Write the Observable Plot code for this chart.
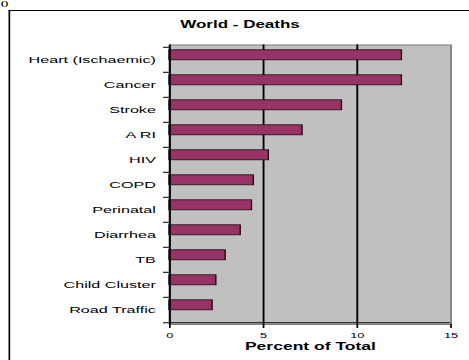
<!DOCTYPE html>
<html>
<head>
<meta charset="utf-8">
<script src="https://cdn.jsdelivr.net/npm/d3@7"></script>
<script src="https://cdn.jsdelivr.net/npm/@observablehq/plot@0.6"></script>
<style>
  html, body { margin: 0; padding: 0; background: #fff; overflow: hidden; }
  #page { position: relative; width: 469px; height: 360px; overflow: hidden; }
  /* the chart is laid out narrow and widened horizontally */
  #stage { position: absolute; left: 0; top: 0; width: 276px; height: 360px;
           transform-origin: 0 0; transform: scaleX(1.7); }
  #pageno { position: absolute; left: 0.5px; top: -1.5px; font: 9px/10px "Liberation Serif", "Times New Roman", serif; color: #000; }
  #box { position: absolute; left: 4.7px; top: 10px; width: 272px; height: 380px;
         border-left: 1.2px solid #000; border-top: 1px solid #000; box-sizing: border-box; }
  #title { position: absolute; left: 0; right: 0; top: 8px; text-align: center;
           font: bold 10px "Liberation Sans", Arial, sans-serif; color: #000; }
  #chart { position: absolute; left: 0; top: 0; }
</style>
</head>
<body>
<div id="page">
  <div id="stage">
    <div id="pageno">0</div>
    <div id="box"><div id="title"></div></div>
    <div id="chart"></div>
  </div>
</div>
<script>
// Causes of death, top to bottom, and their share of all deaths (%)
const causes = ["Heart (Ischaemic)", "Cancer", "Stroke", "A RI", "HIV", "COPD",
                "Perinatal", "Diarrhea", "TB", "Child Cluster", "Road Traffic"];
const percents = [12.4, 12.4, 9.2, 7.1, 5.3, 4.5, 4.4, 3.8, 3.0, 2.5, 2.3];
const xTicks = [0, 5, 10, 15];
const gridValues = [5, 10];
const chartTitle = "World - Deaths";
const xTitle = "Percent of Total";

const data = causes.map((cause, i) => ({cause, percent: percents[i]}));

const W = 276, H = 360;
const mTop = 44.5, mBottom = 36, mLeft = 99.4, mRight = 11.2;
const band = (H - mTop - mBottom) / causes.length;

document.getElementById("title").textContent = chartTitle;

const chart = Plot.plot({
  width: W,
  height: H,
  marginTop: mTop,
  marginBottom: mBottom,
  marginLeft: mLeft,
  marginRight: mRight,
  style: {fontFamily: "'Liberation Sans', Arial, sans-serif", fontSize: "9.5px", color: "#000", background: "transparent", overflow: "visible"},
  x: {domain: [0, 15], label: null},
  y: {type: "band", domain: causes, padding: 0, label: null},
  marks: [
    Plot.frame({fill: "#c0c0c0", stroke: "#808080", strokeWidth: 1.1}),
    Plot.ruleX(gridValues, {stroke: "#000", strokeWidth: 1.1}),
    Plot.barX(data, {x: "percent", y: "cause", fill: "#993366", stroke: "#1a0a12",
                     strokeWidth: 0.8, insetTop: 2.8, insetBottom: 12.2}),
    Plot.ruleX([0], {stroke: "#000", strokeWidth: 1.2}),
    // category boundary ticks on the left axis
    Plot.ruleY(causes, {y: d => d, x2: 0, insetLeft: -3.5, dy: -band / 2, stroke: "#000", strokeWidth: 1}),
    Plot.ruleY(causes.slice(-1), {y: d => d, insetLeft: -3.5, dy: band / 2, stroke: "#000", strokeWidth: 1}),
    Plot.axisY({tickSize: 0, tickPadding: 8.2, label: null, fontSize: 9.5, fill: "#000"}),
    Plot.axisX({ticks: xTicks, tickSize: 4, tickPadding: 4, label: null, fontSize: 7.5, stroke: "#000", fill: "#000"}),
    Plot.text([xTitle], {frameAnchor: "bottom", dy: 25.5, fontWeight: "bold", fontSize: 10.3, fill: "#000"})
  ]
});
document.getElementById("chart").appendChild(chart);
</script>
</body>
</html>
